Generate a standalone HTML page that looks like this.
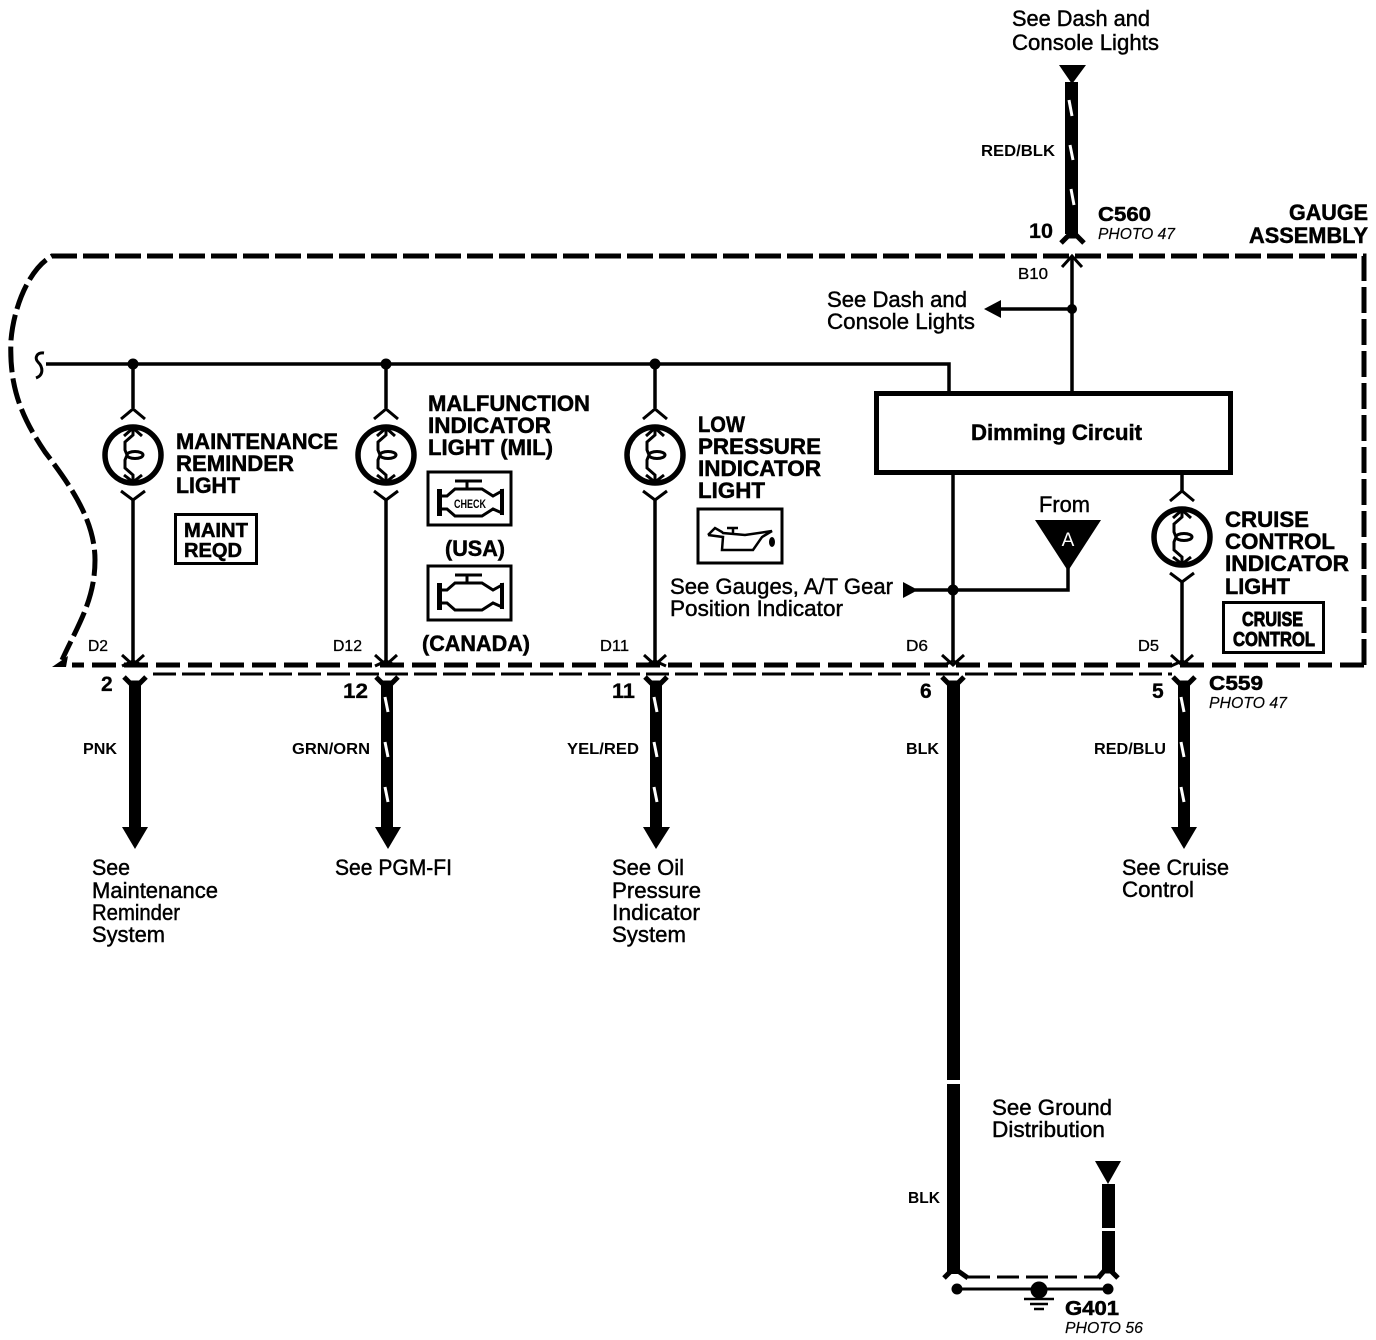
<!DOCTYPE html>
<html>
<head>
<meta charset="utf-8">
<style>
html,body{margin:0;padding:0;background:#fff}
svg{display:block}
text{font-family:"Liberation Sans",sans-serif;fill:#000}
.r{font-size:22px;stroke:#000;stroke-width:.45px}
.b{font-size:22px;font-weight:bold;stroke:#000;stroke-width:.5px}
.s{font-size:16px;font-weight:bold}
.p{font-size:15.500px;font-style:italic;stroke:#000;stroke-width:.15px}
.d{font-size:16px;stroke:#000;stroke-width:.3px}
.n{font-size:21px;font-weight:bold;stroke:#000;stroke-width:.3px}
</style>
</head>
<body>
<svg xmlns="http://www.w3.org/2000/svg" width="1376" height="1340" viewBox="0 0 1376 1340">
<defs>
<g id="bulb" fill="none" stroke="#000">
  <path d="M-12,-36 L0,-46 L12,-36" stroke-width="3"/>
  <circle cx="0" cy="0" r="28" stroke-width="5.500"/>
  <path d="M0,-27 L0,-20 L-8,-13 L-8,-5 L-6,0 L-8,5 L-8,13 L0,20 L0,27" stroke-width="3"/>
  <ellipse cx="2" cy="0" rx="8" ry="3.500" stroke-width="3"/>
  <path d="M-9,-19 L0,-27 L9,-19 M-9,20 L0,27 L9,20" stroke-width="3"/>
  <path d="M-12,36 L0,45 L12,36" stroke-width="3"/>
</g>
<g id="conn" fill="none" stroke="#000" stroke-width="3">
  <path d="M-11,-13 L0,-3 L11,-13"/>
  <path d="M-11,-2 L0,-7 L11,-2"/>
</g>
<g id="foot">
  <path d="M-11,8 L-5,14 L5,14 L11,8" fill="none" stroke="#000" stroke-width="5"/>
  <rect x="-6" y="12" width="12" height="10"/>
</g>
<g id="engine">
  <rect x="437" y="583" width="5" height="27"/>
  <path d="M442,590 L447,590 L455,583 L482,583 L493,590 L502,585 L502,607 L493,603 L482,610 L455,610 L447,603 L442,603" fill="none" stroke="#000" stroke-width="3"/>
  <path d="M455,575 L482,575 M467,575 L467,583" fill="none" stroke="#000" stroke-width="3"/>
  <rect x="500" y="583" width="4" height="26"/>
</g>
</defs>

<!-- assembly boundary -->
<path d="M1364,665 L1364,256 L52,256 C30,268 14,305 11,340 C9,385 20,415 45,452 C70,485 95,520 95,560 C95,600 78,625 62,660" fill="none" stroke="#000" stroke-width="5" stroke-dasharray="26 6"/>
<path d="M1364,665 L72,665" fill="none" stroke="#000" stroke-width="5" stroke-dasharray="24 8"/>
<path d="M153,674 L1172,674" fill="none" stroke="#000" stroke-width="3" stroke-dasharray="23 6"/>
<polygon points="52,667 68,656 66,667" fill="#000"/>

<!-- top wire -->
<polygon points="1059,65 1086,65 1072,84"/>
<rect x="1065" y="82" width="13" height="152"/>
<path d="M1069,100 L1072,116 M1070,145 L1073,160 M1071,189 L1074,205" stroke="#fff" stroke-width="3"/>
<path d="M1061,243 L1068,236 L1077,236 L1084,243" fill="none" stroke="#000" stroke-width="5"/>
<path d="M1062,267 L1072,256 L1082,267" fill="none" stroke="#000" stroke-width="3"/>
<path d="M1072,256 L1072,393" stroke="#000" stroke-width="3.500"/>
<circle cx="1072" cy="309" r="5"/>
<path d="M1072,309 L998,309" stroke="#000" stroke-width="3.500"/>
<polygon points="984,309 1001,300 1001,318"/>

<!-- bus -->
<path d="M46,364 L949,364 L949,393" fill="none" stroke="#000" stroke-width="3.500"/>
<path d="M44,353 C37,352 34,358 38,362 C43,367 44,375 36,378" fill="none" stroke="#000" stroke-width="3"/>
<circle cx="133" cy="364" r="5.500"/><circle cx="386" cy="364" r="5.500"/><circle cx="655" cy="364" r="5.500"/>

<!-- branches -->
<path d="M133,364 L133,408 M133,500 L133,662 M386,364 L386,408 M386,500 L386,662 M655,364 L655,408 M655,500 L655,662 M1182,473 L1182,491 M1182,582 L1182,662 M953,473 L953,662" fill="none" stroke="#000" stroke-width="3.500"/>
<use href="#bulb" x="133" y="455"/>
<use href="#bulb" x="386" y="455"/>
<use href="#bulb" x="655" y="455"/>
<use href="#bulb" x="1182" y="537"/>

<!-- connectors -->
<use href="#conn" x="133" y="668"/>
<use href="#conn" x="386" y="668"/>
<use href="#conn" x="655" y="668"/>
<use href="#conn" x="953" y="668"/>
<use href="#conn" x="1182" y="668"/>
<use href="#foot" x="135" y="669"/>
<use href="#foot" x="387" y="669"/>
<use href="#foot" x="656" y="669"/>
<use href="#foot" x="953" y="669"/>
<use href="#foot" x="1184" y="669"/>

<!-- dimming box -->
<rect x="876.500" y="393.500" width="354" height="79" fill="#fff" stroke="#000" stroke-width="5"/>
<text x="971" y="440" class="b" textLength="171" lengthAdjust="spacingAndGlyphs">Dimming Circuit</text>

<!-- from A -->
<polygon points="1035,520 1101,520 1068,571"/>
<text x="1068" y="546" text-anchor="middle" style="font-size:19px;fill:#fff">A</text>
<path d="M1068,568 L1068,590 L915,590" fill="none" stroke="#000" stroke-width="3.500"/>
<circle cx="953" cy="590" r="5.500"/>
<polygon points="903,582 903,598 918,590"/>

<!-- lower wires -->
<g>
  <rect x="129" y="683" width="12" height="145"/>
  <polygon points="122,827 148,827 135,849"/>
  <rect x="381" y="683" width="12" height="145"/>
  <polygon points="375,827 401,827 388,849"/>
  <rect x="650" y="683" width="12" height="145"/>
  <polygon points="643,827 670,827 656,849"/>
  <rect x="1178" y="683" width="12" height="145"/>
  <polygon points="1171,827 1197,827 1184,849"/>
  <rect x="947" y="683" width="13" height="397"/>
  <rect x="947" y="1084" width="13" height="190"/>
</g>
<path d="M385,697 L388,712 M385,742 L388,757 M385,787 L388,802 M654,697 L657,712 M654,742 L657,757 M654,787 L657,802 M1181,697 L1184,712 M1181,742 L1184,757 M1181,787 L1184,802" stroke="#fff" stroke-width="3"/>

<!-- ground -->
<path d="M944,1278 L951,1271 L958,1271 L968,1278" fill="none" stroke="#000" stroke-width="5"/>
<path d="M1098,1278 L1104,1271 L1111,1271 L1118,1278" fill="none" stroke="#000" stroke-width="5"/>
<path d="M968,1277 L1098,1277" stroke="#000" stroke-width="3" stroke-dasharray="22 7"/>
<polygon points="1095,1161 1121,1161 1108,1184"/>
<rect x="1102" y="1184" width="13" height="44"/>
<rect x="1102" y="1231" width="13" height="41"/>
<path d="M957,1289 L1108,1289" stroke="#000" stroke-width="3"/>
<circle cx="957" cy="1289" r="5.500"/><circle cx="1108" cy="1289" r="5.500"/><circle cx="1039" cy="1290" r="8.500"/>
<path d="M1024,1299 L1054,1299 M1030,1304 L1048,1304 M1034,1309 L1044,1309" stroke="#000" stroke-width="2.500"/>

<!-- icon boxes -->
<rect x="175.500" y="514.500" width="81" height="49" fill="none" stroke="#000" stroke-width="3"/>
<text x="184" y="537" class="b" style="font-size:20px" textLength="64" lengthAdjust="spacingAndGlyphs">MAINT</text>
<text x="184" y="557" class="b" style="font-size:20px" textLength="58" lengthAdjust="spacingAndGlyphs">REQD</text>

<rect x="428" y="472" width="83" height="53" fill="none" stroke="#000" stroke-width="3"/>
<g transform="translate(0,-94)"><use href="#engine"/></g>
<text x="470" y="508" text-anchor="middle" style="font-size:12px;font-weight:bold" textLength="32" lengthAdjust="spacingAndGlyphs">CHECK</text>

<rect x="428" y="566" width="83" height="54" fill="none" stroke="#000" stroke-width="3"/>
<use href="#engine"/>

<rect x="698" y="509" width="84" height="54" fill="none" stroke="#000" stroke-width="3"/>
<path d="M708,535 L715,528 L722,532 L723,533 L745,535 L772,531 L762,537 L753,550 L722,550 L723,537 L708,535 M727,528 L738,528 M733,528 L733,534" fill="none" stroke="#000" stroke-width="2.500"/>
<ellipse cx="772" cy="542" rx="3" ry="5"/>

<rect x="1223.500" y="602.500" width="100" height="50" fill="none" stroke="#000" stroke-width="3"/>
<text x="1242" y="626" class="b" style="font-size:20px;stroke-width:.9px" textLength="61" lengthAdjust="spacingAndGlyphs">CRUISE</text>
<text x="1233" y="646" class="b" style="font-size:20px;stroke-width:.9px" textLength="82" lengthAdjust="spacingAndGlyphs">CONTROL</text>

<!-- regular labels -->
<text x="1012" y="26" class="r" textLength="138" lengthAdjust="spacingAndGlyphs">See Dash and</text>
<text x="1012" y="50" class="r" textLength="147" lengthAdjust="spacingAndGlyphs">Console Lights</text>
<text x="827" y="307" class="r" textLength="140" lengthAdjust="spacingAndGlyphs">See Dash and</text>
<text x="827" y="329" class="r" textLength="148" lengthAdjust="spacingAndGlyphs">Console Lights</text>
<text x="670" y="594" class="r" textLength="223" lengthAdjust="spacingAndGlyphs">See Gauges, A/T Gear</text>
<text x="670" y="616" class="r" textLength="173" lengthAdjust="spacingAndGlyphs">Position Indicator</text>
<text x="1039" y="512" class="r" textLength="51" lengthAdjust="spacingAndGlyphs">From</text>
<text x="92" y="875" class="r" textLength="38" lengthAdjust="spacingAndGlyphs">See</text>
<text x="92" y="898" class="r" textLength="126" lengthAdjust="spacingAndGlyphs">Maintenance</text>
<text x="92" y="920" class="r" textLength="88" lengthAdjust="spacingAndGlyphs">Reminder</text>
<text x="92" y="942" class="r" textLength="73" lengthAdjust="spacingAndGlyphs">System</text>
<text x="335" y="875" class="r" textLength="117" lengthAdjust="spacingAndGlyphs">See PGM-FI</text>
<text x="612" y="875" class="r" textLength="72" lengthAdjust="spacingAndGlyphs">See Oil</text>
<text x="612" y="898" class="r" textLength="89" lengthAdjust="spacingAndGlyphs">Pressure</text>
<text x="612" y="920" class="r" textLength="88" lengthAdjust="spacingAndGlyphs">Indicator</text>
<text x="612" y="942" class="r" textLength="74" lengthAdjust="spacingAndGlyphs">System</text>
<text x="1122" y="875" class="r" textLength="107" lengthAdjust="spacingAndGlyphs">See Cruise</text>
<text x="1122" y="897" class="r" textLength="72" lengthAdjust="spacingAndGlyphs">Control</text>
<text x="992" y="1115" class="r" textLength="120" lengthAdjust="spacingAndGlyphs">See Ground</text>
<text x="992" y="1137" class="r" textLength="113" lengthAdjust="spacingAndGlyphs">Distribution</text>

<!-- bold labels -->
<text x="176" y="449" class="b" textLength="162" lengthAdjust="spacingAndGlyphs">MAINTENANCE</text>
<text x="176" y="471" class="b" textLength="118" lengthAdjust="spacingAndGlyphs">REMINDER</text>
<text x="176" y="493" class="b" textLength="64" lengthAdjust="spacingAndGlyphs">LIGHT</text>
<text x="428" y="411" class="b" textLength="162" lengthAdjust="spacingAndGlyphs">MALFUNCTION</text>
<text x="428" y="433" class="b" textLength="123" lengthAdjust="spacingAndGlyphs">INDICATOR</text>
<text x="428" y="455" class="b" textLength="125" lengthAdjust="spacingAndGlyphs">LIGHT (MIL)</text>
<text x="445" y="556" class="b" textLength="60" lengthAdjust="spacingAndGlyphs">(USA)</text>
<text x="422" y="651" class="b" textLength="108" lengthAdjust="spacingAndGlyphs">(CANADA)</text>
<text x="698" y="432" class="b" textLength="47" lengthAdjust="spacingAndGlyphs">LOW</text>
<text x="698" y="454" class="b" textLength="123" lengthAdjust="spacingAndGlyphs">PRESSURE</text>
<text x="698" y="476" class="b" textLength="123" lengthAdjust="spacingAndGlyphs">INDICATOR</text>
<text x="698" y="498" class="b" textLength="67" lengthAdjust="spacingAndGlyphs">LIGHT</text>
<text x="1225" y="527" class="b" textLength="84" lengthAdjust="spacingAndGlyphs">CRUISE</text>
<text x="1225" y="549" class="b" textLength="110" lengthAdjust="spacingAndGlyphs">CONTROL</text>
<text x="1225" y="571" class="b" textLength="124" lengthAdjust="spacingAndGlyphs">INDICATOR</text>
<text x="1225" y="594" class="b" textLength="65" lengthAdjust="spacingAndGlyphs">LIGHT</text>
<text x="1289" y="220" class="b" textLength="79" lengthAdjust="spacingAndGlyphs">GAUGE</text>
<text x="1249" y="243" class="b" textLength="119" lengthAdjust="spacingAndGlyphs">ASSEMBLY</text>
<text x="1098" y="221" class="b" style="font-size:20px" textLength="53" lengthAdjust="spacingAndGlyphs">C560</text>
<text x="1209" y="690" class="b" style="font-size:20px" textLength="54" lengthAdjust="spacingAndGlyphs">C559</text>
<text x="1065" y="1315" class="b" style="font-size:20px" textLength="54" lengthAdjust="spacingAndGlyphs">G401</text>

<!-- photo refs -->
<text x="1098" y="239" class="p" textLength="77" lengthAdjust="spacingAndGlyphs">PHOTO 47</text>
<text x="1209" y="708" class="p" textLength="78" lengthAdjust="spacingAndGlyphs">PHOTO 47</text>
<text x="1065" y="1333" class="p" textLength="78" lengthAdjust="spacingAndGlyphs">PHOTO 56</text>

<!-- pin numbers -->
<text x="1029" y="238" class="n" textLength="24" lengthAdjust="spacingAndGlyphs">10</text>
<text x="101" y="691" class="n">2</text>
<text x="343" y="698" class="n" textLength="25" lengthAdjust="spacingAndGlyphs">12</text>
<text x="612" y="698" class="n" textLength="23" lengthAdjust="spacingAndGlyphs">11</text>
<text x="920" y="698" class="n">6</text>
<text x="1152" y="698" class="n">5</text>

<!-- terminal ids -->
<text x="1018" y="279" class="d" textLength="30" lengthAdjust="spacingAndGlyphs">B10</text>
<text x="88" y="651" class="d" textLength="20" lengthAdjust="spacingAndGlyphs">D2</text>
<text x="333" y="651" class="d" textLength="29" lengthAdjust="spacingAndGlyphs">D12</text>
<text x="600" y="651" class="d" textLength="29" lengthAdjust="spacingAndGlyphs">D11</text>
<text x="906" y="651" class="d" textLength="22" lengthAdjust="spacingAndGlyphs">D6</text>
<text x="1138" y="651" class="d" textLength="21" lengthAdjust="spacingAndGlyphs">D5</text>

<!-- wire colours -->
<text x="981" y="156" class="s" textLength="74" lengthAdjust="spacingAndGlyphs">RED/BLK</text>
<text x="83" y="754" class="s" textLength="34" lengthAdjust="spacingAndGlyphs">PNK</text>
<text x="292" y="754" class="s" textLength="78" lengthAdjust="spacingAndGlyphs">GRN/ORN</text>
<text x="567" y="754" class="s" textLength="72" lengthAdjust="spacingAndGlyphs">YEL/RED</text>
<text x="906" y="754" class="s" textLength="33" lengthAdjust="spacingAndGlyphs">BLK</text>
<text x="1094" y="754" class="s" textLength="72" lengthAdjust="spacingAndGlyphs">RED/BLU</text>
<text x="908" y="1203" class="s" textLength="32" lengthAdjust="spacingAndGlyphs">BLK</text>
</svg>
</body>
</html>
